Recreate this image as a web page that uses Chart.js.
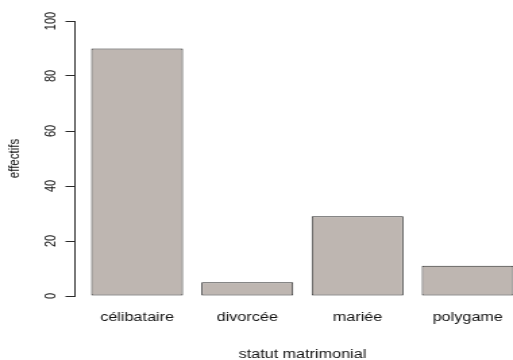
<!DOCTYPE html>
<html>
<head>
<meta charset="utf-8">
<script src="https://cdn.jsdelivr.net/npm/chart.js@4.4.1/dist/chart.umd.min.js"></script>
<style>
  body { margin: 0; background: #fff; overflow: hidden; }
  #wrap { width: 513px; height: 360px; overflow: hidden; }
  /* the reference picture is stretched sideways, so the canvas is too */
  #chart { transform: scaleX(1.35); transform-origin: 0 0; }
</style>
</head>
<body>
<div id="wrap"><canvas id="chart" width="395" height="360"></canvas></div>
<script>
const categories = ['célibataire', 'divorcée', 'mariée', 'polygame'];
const effectifs = [90, 5, 29, 11];
const yTicks = [0, 20, 40, 60, 80, 100];

(() => {
  'use strict';
  const family = "'Liberation Sans', Arial, sans-serif";
  const ink = '#111';

  const ctx = document.getElementById('chart');
  // eslint-disable-next-line no-unused-vars
  const myChart = new Chart(ctx, {
    type: 'bar',
    data: {
      datasets: [{
        label: 'effectifs',
        data: categories.map((c, i) => ({ x: i + 1, y: effectifs[i] })),
        backgroundColor: '#beb6b1',
        borderColor: '#2a2a2a',
        borderWidth: 1,
        borderSkipped: false,
        barPercentage: 0.8333,
        categoryPercentage: 1
      }]
    },
    options: {
      responsive: false,
      animation: false,
      devicePixelRatio: 1,
      layout: { padding: { top: 21, right: 2, bottom: 0, left: 0 } },
      plugins: {
        legend: { display: false },
        tooltip: { enabled: false }
      },
      scales: {
        x: {
          type: 'linear',
          offset: false,
          min: 0.43,
          max: 4.57,
          grid: { display: false, drawTicks: false },
          border: { display: false },
          afterBuildTicks: (scale) => {
            scale.ticks = categories.map((c, i) => ({ value: i + 1 }));
          },
          afterFit: (scale) => { scale.height = 64; },
          ticks: {
            autoSkip: false,
            maxRotation: 0,
            padding: 14.5,
            color: ink,
            font: { family, size: 12 },
            callback: (v) => categories[v - 1]
          },
          title: {
            display: true,
            text: 'statut matrimonial',
            color: ink,
            font: { family, size: 12, lineHeight: 0.9 },
            padding: { top: 0, bottom: 0 }
          }
        },
        y: {
          min: 0,
          max: 100,
          afterBuildTicks: (scale) => {
            scale.ticks = yTicks.map(v => ({ value: v }));
          },
          afterFit: (scale) => { scale.width = 55; },
          grid: {
            drawOnChartArea: false,
            drawTicks: true,
            tickLength: 6.5,
            color: '#2a2a2a',
            lineWidth: 1
          },
          border: { display: true, color: '#2a2a2a', width: 1 },
          ticks: {
            minRotation: 90,
            maxRotation: 90,
            crossAlign: 'center',
            padding: 1,
            color: ink,
            font: { family, size: 11 }
          },
          title: {
            display: true,
            text: 'effectifs',
            color: ink,
            font: { family, size: 11.5, lineHeight: 1 },
            padding: { top: 5, bottom: 0 }
          }
        }
      }
    }
  });
})();
</script>
</body>
</html>
